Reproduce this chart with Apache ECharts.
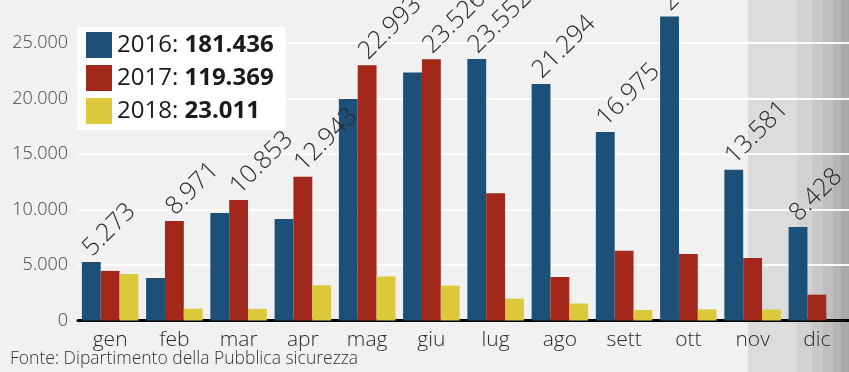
<!DOCTYPE html>
<html>
<head>
<meta charset="utf-8">
<script src="https://cdn.jsdelivr.net/npm/echarts@6/dist/echarts.min.js"></script>
<style>html,body{margin:0;padding:0;background:#f1f1f1;}</style>
</head>
<body>
<div id="main" style="width:849px;height:372px;"></div>
<script type="text/javascript">
// sbarchi per mese
var mesi = ['gen', 'feb', 'mar', 'apr', 'mag', 'giu', 'lug', 'ago', 'sett', 'ott', 'nov', 'dic'];
var anni = ['2016', '2017', '2018'];
var arrivi2016 = [5273, 3828, 9676, 9149, 19957, 22339, 23552, 21294, 16975, 27384, 13581, 8428];
var arrivi2017 = [4468, 8971, 10853, 12943, 22993, 23526, 11461, 3920, 6282, 5984, 5641, 2327];
var arrivi2018 = [4182, 1065, 1049, 3171, 3963, 3136, 1969, 1531, 947, 1007, 980, 11];
var colori = ['#1d5079', '#a1281b', '#dbc83b'];
var fonte = 'Fonte: Dipartimento della Pubblica sicurezza';

var serie = [arrivi2016, arrivi2017, arrivi2018];
var FONT = '"Open Sans", Lato, sans-serif';

function fmt(n) {
    return String(n).replace(/\B(?=(\d{3})+(?!\d))/g, '.');
}

var totali = serie.map(function (s) {
    return s.reduce(function (a, b) { return a + b; }, 0);
});

// etichetta solo sulla barra piu alta del mese
var maxIdx = mesi.map(function (m, i) {
    var best = 0;
    for (var k = 1; k < serie.length; k++) {
        if (serie[k][i] > serie[best][i]) best = k;
    }
    return best;
});

var seriesOpt = anni.map(function (anno, k) {
    return {
        name: anno,
        type: 'bar',
        barGap: 0,
        barCategoryGap: '12%',
        itemStyle: { color: colori[k] },
        data: serie[k].map(function (v, i) {
            return {
                value: v,
                label: { show: maxIdx[i] === k }
            };
        }),
        label: {
            position: [14, -1],
            rotate: 45,
            align: 'left',
            verticalAlign: 'bottom',
            fontFamily: FONT,
            fontWeight: 300,
            fontSize: 25,
            color: '#2a2a2a',
            formatter: function (p) { return fmt(p.value); }
        }
    };
});

var stripes = [
    [748, 49, '#dcdcdc'],
    [797, 15, '#d2d2d2'],
    [812, 11, '#c9c9c9'],
    [823, 10, '#bfbfbf'],
    [833, 8, '#b4b4b4'],
    [841, 8, '#a9a9a9']
];

var myChart = echarts.init(document.getElementById('main'));

var option = {
    backgroundColor: '#f1f1f1',
    animation: false,
    grid: { left: 78, width: 784, top: 0, bottom: 51.5 },
    legend: {
        data: anni,
        orient: 'vertical',
        left: 77,
        top: 27,
        backgroundColor: '#ffffff',
        padding: [5, 12, 6, 9],
        icon: 'rect',
        itemWidth: 26,
        itemHeight: 26,
        itemGap: 7,
        selectedMode: false,
        formatter: function (name) {
            return name + ': {b|' + fmt(totali[anni.indexOf(name)]) + '}';
        },
        textStyle: {
            fontFamily: FONT,
            fontSize: 24,
            color: '#1a1a1a',
            rich: {
                b: { fontFamily: FONT, fontSize: 24, fontWeight: 'bold', color: '#1a1a1a' }
            }
        }
    },
    graphic: stripes.map(function (s) {
        return {
            type: 'rect',
            z: -10,
            silent: true,
            shape: { x: s[0], y: 0, width: s[1], height: 372 },
            style: { fill: s[2] }
        };
    }).concat([{
        type: 'text',
        left: 10,
        top: 350,
        style: {
            text: fonte,
            font: '300 17.5px ' + FONT,
            fill: '#333'
        }
    }]),
    xAxis: {
        type: 'category',
        data: mesi,
        axisTick: { show: false },
        axisLine: { lineStyle: { color: '#000', width: 3 } },
        axisLabel: {
            margin: 9,
            fontFamily: FONT,
            fontWeight: 300,
            fontSize: 21,
            color: '#2a2a2a'
        }
    },
    yAxis: {
        type: 'value',
        min: 0,
        max: 28870,
        interval: 5000,
        axisLine: { show: false },
        axisTick: { show: false },
        splitLine: { showMaxLine: false, lineStyle: { color: 'rgba(255,255,255,0.9)', width: 2 } },
        axisLabel: {
            showMaxLabel: false,
            margin: 10,
            padding: [0, 0, 13, 0],
            fontFamily: FONT,
            fontWeight: 300,
            fontSize: 18,
            color: '#444',
            formatter: function (v) { return fmt(v); }
        }
    },
    series: seriesOpt
};

myChart.setOption(option);
</script>
</body>
</html>
